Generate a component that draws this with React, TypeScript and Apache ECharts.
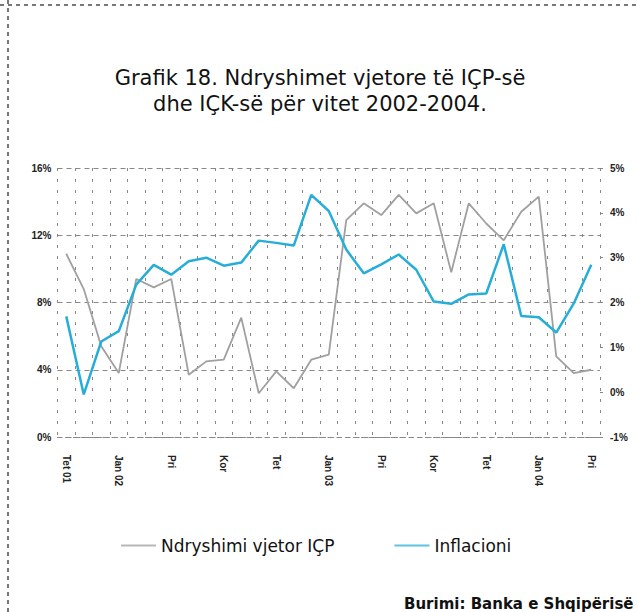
import React, { useEffect, useRef } from "react";
import * as echarts from "echarts";

const categories = [
  "Tet 01", "Nën 01", "Dhj 01", "Jan 02", "Shk 02", "Mar 02", "Pri 02", "Maj 02", "Qer 02", "Kor 02",
  "Gus 02", "Sht 02", "Tet 02", "Nën 02", "Dhj 02", "Jan 03", "Shk 03", "Mar 03", "Pri 03", "Maj 03",
  "Qer 03", "Kor 03", "Gus 03", "Sht 03", "Tet 03", "Nën 03", "Dhj 03", "Jan 04", "Shk 04", "Mar 04",
  "Pri 04",
];

// Annual change of producer prices (left axis, %)
const icpValues = [
  10.9, 8.8, 5.4, 3.8, 9.4, 8.9, 9.4, 3.7, 4.5, 4.6,
  7.1, 2.6, 3.9, 2.9, 4.6, 4.9, 12.9, 13.9, 13.2, 14.4,
  13.3, 13.9, 9.8, 13.9, 12.7, 11.7, 13.4, 14.3, 4.8, 3.8,
  4.0,
];

// Inflation (right axis, %)
const inflationValues = [
  1.69, -0.05, 1.13, 1.36, 2.4, 2.84, 2.62, 2.92, 3.0, 2.82,
  2.89, 3.38, 3.33, 3.27, 4.4, 4.04, 3.18, 2.65, 2.85, 3.07,
  2.73, 2.02, 1.97, 2.18, 2.2, 3.3, 1.7, 1.67, 1.33, 1.98,
  2.84,
];

const leftTicks = { min: 0, max: 16, interval: 4 };
const rightTicks = { min: -1, max: 5, interval: 1 };

const titleLines = ["Grafik 18. Ndryshimet vjetore të IÇP-së", "dhe IÇK-së për vitet 2002-2004."];
const seriesNames = ["Ndryshimi vjetor IÇP", "Inflacioni"];
const sourceText = "Burimi: Banka e Shqipërisë";

const FONT = "'Liberation Sans', Arial, sans-serif";
const WIDE = "'DejaVu Sans', 'Liberation Sans', sans-serif";

export default function App() {
  const ref = useRef<HTMLDivElement>(null);

  useEffect(() => {
    if (!ref.current) return;
    const chart = echarts.init(ref.current, null, { renderer: "svg" });
    chart.setOption({
      animation: false,
      backgroundColor: "#ffffff",
      textStyle: { fontFamily: FONT },
      legend: {
        data: seriesNames,
        left: 116,
        top: 532,
        icon: "rect",
        itemWidth: 35,
        itemHeight: 2,
        itemGap: 60,
        textStyle: { fontFamily: WIDE, fontSize: 17, color: "#111" },
      },
      grid: { left: 57.5, right: 38, top: 168, bottom: 175, containLabel: false },
      xAxis: {
        type: "category",
        data: categories,
        boundaryGap: true,
        axisLine: { show: true, lineStyle: { color: "#888", type: [4, 4], width: 1 } },
        axisTick: { show: false },
        axisLabel: {
          interval: 2,
          rotate: -90,
          margin: 18,
          fontSize: 10,
          fontWeight: "bold",
          color: "#222",
          fontFamily: FONT,
          formatter: (val: string, idx: number) =>
            idx === 0 || val.startsWith("Jan") ? val : val.split(" ")[0],
        },
        splitLine: { show: true, interval: 0, lineStyle: { color: "#888", type: [3, 8], width: 1 } },
      },
      yAxis: [
        {
          type: "value",
          position: "left",
          ...leftTicks,
          axisLine: { show: false },
          axisTick: { show: false },
          axisLabel: {
            formatter: "{value}%",
            fontSize: 10,
            fontWeight: "bold",
            color: "#222",
            margin: 6,
            fontFamily: FONT,
          },
          splitLine: { show: true, lineStyle: { color: "#888", type: [5, 4], width: 1 } },
        },
        {
          type: "value",
          position: "right",
          ...rightTicks,
          axisLine: { show: false },
          axisTick: { show: true, length: 3, lineStyle: { color: "#888" } },
          axisLabel: {
            formatter: "{value}%",
            fontSize: 10,
            fontWeight: "bold",
            color: "#222",
            margin: 10,
            fontFamily: FONT,
          },
          splitLine: { show: false },
        },
      ],
      series: [
        {
          name: seriesNames[0],
          type: "line",
          data: icpValues,
          yAxisIndex: 0,
          showSymbol: false,
          symbol: "none",
          lineStyle: { color: "#a0a0a0", width: 1.8 },
          itemStyle: { color: "#b8b8b8" },
        },
        {
          name: seriesNames[1],
          type: "line",
          data: inflationValues,
          yAxisIndex: 1,
          showSymbol: false,
          symbol: "none",
          lineStyle: { color: "#27aed8", width: 2.5 },
          itemStyle: { color: "#5cc3e0" },
        },
      ],
      graphic: [
        {
          type: "line",
          shape: { x1: 0, y1: 5, x2: 638, y2: 5 },
          style: { stroke: "#777", lineWidth: 2, lineDash: [4, 4] },
        },
        {
          type: "line",
          shape: { x1: 8, y1: 0, x2: 8, y2: 612 },
          style: { stroke: "#777", lineWidth: 2, lineDash: [4, 4] },
        },
        {
          type: "text",
          x: 320,
          y: 78,
          style: {
            text: titleLines[0],
            fontSize: 21,
            fill: "#111",
            fontFamily: WIDE,
            align: "center",
            verticalAlign: "middle",
          },
        },
        {
          type: "text",
          x: 320,
          y: 104,
          style: {
            text: titleLines[1],
            fontSize: 21,
            fill: "#111",
            fontFamily: WIDE,
            align: "center",
            verticalAlign: "middle",
          },
        },
        {
          type: "text",
          x: 404,
          y: 604,
          style: {
            text: sourceText,
            fontSize: 15,
            fontWeight: "bold",
            fill: "#111",
            fontFamily: WIDE,
            verticalAlign: "middle",
          },
        },
      ],
    });
    return () => chart.dispose();
  }, []);

  return (
    <div
      ref={ref}
      style={{ position: "absolute", left: 0, top: 0, width: 638, height: 612 }}
    />
  );
}
